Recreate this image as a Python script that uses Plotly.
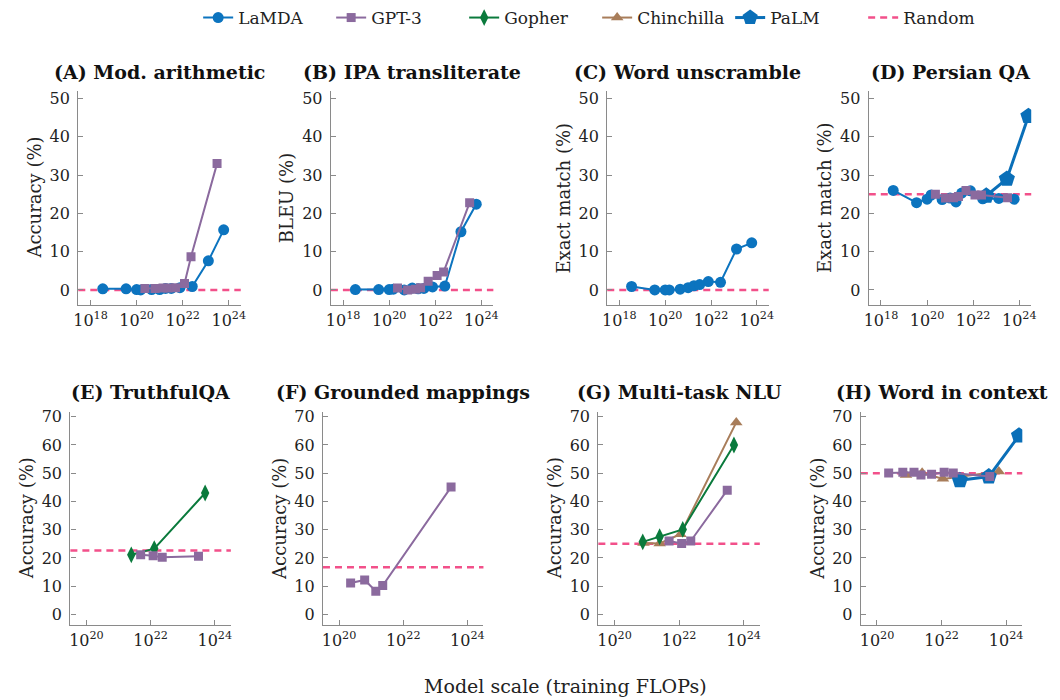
import plotly.graph_objects as go

# ---------------- data ----------------
# training FLOPs per model family
lamda_flops = [3.4e18, 3.5e19, 1.0e20, 1.5e20, 4.5e20, 1.0e21, 1.8e21, 3.2e21, 7.6e21, 2.6e22, 1.3e23, 6.0e23]
gpt3_flops = [2.3e20, 6.3e20, 1.4e21, 2.3e21, 4.9e21, 1.2e22, 2.3e22, 3.1e23]
gopher_flops = [7.5e20, 2.5e21, 1.3e22, 5.0e23]
chinchilla_flops = [7.9e20, 2.5e21, 1.1e22, 5.9e23]
palm_flops = [3.7e22, 2.9e23, 2.5e24]

# (A) Mod. arithmetic
a_lamda = [0.3, 0.3, 0.1, 0.0, 0.1, 0.1, 0.4, 0.4, 0.6, 0.9, 7.6, 15.7]
a_gpt3 = [0.4, 0.4, 0.5, 0.5, 0.6, 1.7, 8.7, 33.0]
# (B) IPA transliterate
b_lamda = [0.1, 0.1, 0.1, 0.2, 0.0, 0.5, 0.3, 0.4, 0.8, 1.0, 15.2, 22.4]
b_gpt3 = [0.5, 0.0, 0.2, 0.6, 2.3, 3.8, 4.7, 22.8]
# (C) Word unscramble
c_lamda = [0.9, 0.0, 0.0, 0.0, 0.2, 0.6, 1.1, 1.4, 2.2, 2.0, 10.7, 12.3]
# (D) Persian QA
d_lamda = [26.0, 22.8, 23.7, 24.8, 23.6, 24.0, 23.0, 25.3, 25.9, 23.8, 23.9, 23.7]
d_gpt3 = [25.0, 24.0, 24.1, 24.4, 26.0, 24.8, 24.8, 24.1]
d_palm = [24.6, 29.0, 45.4]
# (E) TruthfulQA
e_gopher_flops = [2.5e21, 1.3e22, 5.0e23]
e_gopher = [21.1, 23.3, 43.0]
e_gpt3_flops = [4.9e21, 1.2e22, 2.3e22, 3.1e23]
e_gpt3 = [21.1, 20.8, 20.2, 20.6]
# (F) Grounded mappings
f_gpt3_flops = [2.3e20, 6.3e20, 1.4e21, 2.3e21, 3.1e23]
f_gpt3 = [11.1, 12.2, 8.2, 10.2, 45.1]
# (G) Multi-task NLU
g_gopher = [25.7, 27.5, 30.1, 60.0]
g_chinchilla = [25.3, 25.1, 28.4, 68.0]
g_gpt3_flops = [4.9e21, 1.2e22, 2.3e22, 3.1e23]
g_gpt3 = [26.0, 25.1, 26.0, 44.0]
# (H) Word in context
h_gpt3 = [50.1, 50.3, 50.3, 49.4, 49.6, 50.3, 50.1, 48.8]
h_chinchilla = [49.4, 50.2, 48.0, 50.6]
h_palm = [47.5, 48.8, 63.3]

# random baselines per panel
random_baseline = [0.0, 0.0, 0.0, 25.0, 22.6, 16.7, 25.0, 50.0]

panel_titles = ["(A) Mod. arithmetic", "(B) IPA transliterate", "(C) Word unscramble", "(D) Persian QA",
                "(E) TruthfulQA", "(F) Grounded mappings", "(G) Multi-task NLU", "(H) Word in context"]
y_titles = ["Accuracy (%)", "BLEU (%)", "Exact match (%)", "Exact match (%)",
            "Accuracy (%)", "Accuracy (%)", "Accuracy (%)", "Accuracy (%)"]
top_x_ticks = [1e18, 1e20, 1e22, 1e24]
top_x_text = ["10<sup>18</sup>", "10<sup>20</sup>", "10<sup>22</sup>", "10<sup>24</sup>"]
bottom_x_ticks = [1e20, 1e22, 1e24]
bottom_x_text = ["10<sup>20</sup>", "10<sup>22</sup>", "10<sup>24</sup>"]
top_y_ticks = [0, 10, 20, 30, 40, 50]
bottom_y_ticks = [0, 10, 20, 30, 40, 50, 60, 70]

# ---------------- styling / layout ----------------
W, H = 1060, 700
FONT = "DejaVu Serif"
BLUE = "#0C74BF"
PALM_BLUE = "#0A6FB8"
PURPLE = "#8B6A9E"
GREEN = "#0A7A3C"
BROWN = "#A87D5A"
PINK = "#F2508A"
AXIS_GREY = "#8a8a8a"

# plot-area pixel boxes: (left, right, top, bottom)
boxes = [(74, 238, 87, 303), (329, 493, 87, 303), (608, 771, 87, 303), (872, 1036, 87, 303),
         (66, 228, 410, 625), (321, 483, 410, 625), (599, 762, 410, 625), (864, 1027, 410, 625)]

styles = {
    "LaMDA": dict(color=BLUE, symbol="circle", size=11, width=2, rank=1),
    "GPT-3": dict(color=PURPLE, symbol="square", size=9, width=2, rank=2),
    "Gopher": dict(color=GREEN, symbol="diamond-tall", size=12, width=2, rank=3),
    "Chinchilla": dict(color=BROWN, symbol="triangle-up", size=11, width=2, rank=4),
    "PaLM": dict(color=PALM_BLUE, symbol="pentagon", size=17, width=3, rank=5),
}

# series per panel, in drawing order
panel_series = [
    [("LaMDA", lamda_flops, a_lamda), ("GPT-3", gpt3_flops, a_gpt3)],
    [("LaMDA", lamda_flops, b_lamda), ("GPT-3", gpt3_flops, b_gpt3)],
    [("LaMDA", lamda_flops, c_lamda)],
    [("LaMDA", lamda_flops, d_lamda), ("PaLM", palm_flops, d_palm), ("GPT-3", gpt3_flops, d_gpt3)],
    [("Gopher", e_gopher_flops, e_gopher), ("GPT-3", e_gpt3_flops, e_gpt3)],
    [("GPT-3", f_gpt3_flops, f_gpt3)],
    [("Chinchilla", chinchilla_flops, g_chinchilla), ("Gopher", gopher_flops, g_gopher),
     ("GPT-3", g_gpt3_flops, g_gpt3)],
    [("Chinchilla", chinchilla_flops, h_chinchilla), ("PaLM", palm_flops, h_palm),
     ("GPT-3", gpt3_flops, h_gpt3)],
]

fig = go.Figure()
shown = set()
for i, series in enumerate(panel_series):
    n = "" if i == 0 else str(i + 1)
    for name, xs, ys in series:
        st = styles[name]
        fig.add_trace(go.Scatter(
            x=xs, y=ys, mode="lines+markers", name=name,
            xaxis="x" + n, yaxis="y" + n,
            line=dict(color=st["color"], width=st["width"]),
            marker=dict(symbol=st["symbol"], size=st["size"], color=st["color"],
                        line=dict(width=0)),
            legendgroup=name, showlegend=name not in shown, legendrank=st["rank"],
        ))
        shown.add(name)

# legend entry for random baseline
fig.add_trace(go.Scatter(x=[None], y=[None], mode="lines", name="Random",
                         line=dict(color=PINK, width=2.5, dash="7px,5px"),
                         legendrank=6, showlegend=True))

layout = dict(
    width=W, height=H, margin=dict(l=0, r=0, t=0, b=0),
    paper_bgcolor="white", plot_bgcolor="white",
    font=dict(family=FONT, size=16, color="#222"),
    legend=dict(orientation="h", x=195 / W, xanchor="left", y=1 - 14 / H, yanchor="middle",
                font=dict(family=FONT, size=17, color="#222"), itemwidth=30,
                entrywidth=88, entrywidthmode="pixels",
                bgcolor="rgba(0,0,0,0)"),
)

annotations = []
shapes = []
for i, (l, r, t, b) in enumerate(boxes):
    n = "" if i == 0 else str(i + 1)
    top = i < 4
    layout["xaxis" + n] = dict(
        type="log", domain=[l / W, r / W], anchor="y" + n,
        range=[17.47, 24.52] if top else [19.5, 24.5],
        tickvals=top_x_ticks if top else bottom_x_ticks,
        ticktext=top_x_text if top else bottom_x_text,
        ticks="inside", ticklen=5, tickcolor=AXIS_GREY, tickwidth=1,
        showline=True, linecolor=AXIS_GREY, linewidth=1.3,
        showgrid=False, zeroline=False, tickfont=dict(size=16),
    )
    layout["yaxis" + n] = dict(
        domain=[1 - b / H, 1 - t / H], anchor="x" + n,
        range=[-4.0, 52.1] if top else [-3.9, 71.8],
        tickvals=top_y_ticks if top else bottom_y_ticks,
        ticks="inside", ticklen=5, tickcolor=AXIS_GREY, tickwidth=1,
        showline=True, linecolor=AXIS_GREY, linewidth=1.3,
        showgrid=False, zeroline=False, tickfont=dict(size=16),
        ticklabelstandoff=4,
    )
    # panel title
    annotations.append(dict(
        text="<b>" + panel_titles[i] + "</b>", xref="paper", yref="paper",
        x=(l + r) / 2 / W, y=1 - (68 if top else 390) / H,
        xanchor="center", yanchor="middle", showarrow=False,
        font=dict(family=FONT, size=19, color="#111"),
    ))
    # y-axis title
    annotations.append(dict(
        text=y_titles[i], xref="paper", yref="paper",
        x=(l - 44) / W, y=1 - (t + b) / 2 / H, textangle=-90,
        xanchor="center", yanchor="middle", showarrow=False,
        font=dict(family=FONT, size=18, color="#222"),
    ))
    # random baseline
    shapes.append(dict(
        type="line", xref="x" + n + " domain", yref="y" + n,
        x0=0, x1=1, y0=random_baseline[i], y1=random_baseline[i],
        line=dict(color=PINK, width=2.5, dash="7px,5px"), layer="below",
    ))

annotations.append(dict(
    text="Model scale (training FLOPs)", xref="paper", yref="paper",
    x=566 / W, y=1 - 686 / H, xanchor="center", yanchor="middle", showarrow=False,
    font=dict(family=FONT, size=19, color="#222"),
))

layout["annotations"] = annotations
layout["shapes"] = shapes
fig.update_layout(**layout)

fig.write_html("out.html", config={"displayModeBar": False},
               post_script="document.body.style.margin='0';document.body.style.overflow='hidden';")
